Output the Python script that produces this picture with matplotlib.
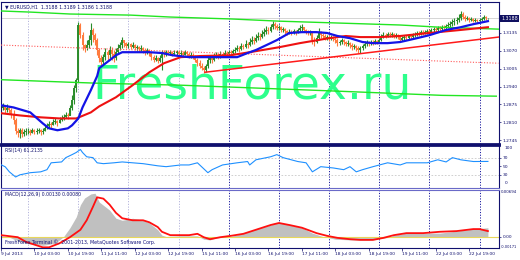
import numpy as np
import pandas as pd
import matplotlib.pyplot as plt

# EURUSD H1, 9 Jul 11:00 .. 23 Jul 04:00 (server time), weekends skipped
times = pd.date_range('2013-07-09 11:00', '2013-07-23 04:00', freq='h')
times = times[times.dayofweek < 5]

first_open = 1.2864
close = [1.2861, 1.2868, 1.2854, 1.2861, 1.2854, 1.2839, 1.2817, 1.2777, 1.2770, 1.2781,
         1.2766, 1.2773, 1.2777, 1.2777, 1.2770, 1.2781, 1.2773, 1.2777, 1.2781, 1.2773,
         1.2777, 1.2788, 1.2795, 1.2802, 1.2799, 1.2810, 1.2813, 1.2806, 1.2817, 1.2824,
         1.2828, 1.2835, 1.2832, 1.2861, 1.2890, 1.2934, 1.2963, 1.3164, 1.3127, 1.3091,
         1.3080, 1.3091, 1.3109, 1.3146, 1.3127, 1.3109, 1.3073, 1.3043, 1.3029, 1.3047,
         1.3065, 1.3054, 1.3073, 1.3058, 1.3043, 1.3065, 1.3080, 1.3091, 1.3109, 1.3098,
         1.3087, 1.3094, 1.3083, 1.3091, 1.3080, 1.3083, 1.3076, 1.3080, 1.3073, 1.3065,
         1.3073, 1.3062, 1.3047, 1.3036, 1.3043, 1.3032, 1.3043, 1.3065, 1.3058, 1.3065,
         1.3062, 1.3065, 1.3058, 1.3062, 1.3065, 1.3058, 1.3062, 1.3054, 1.3065, 1.3058,
         1.3051, 1.3054, 1.3047, 1.3036, 1.3025, 1.3014, 1.3007, 1.3000, 1.3014, 1.3036,
         1.3043, 1.3036, 1.3051, 1.3054, 1.3047, 1.3058, 1.3054, 1.3062, 1.3058, 1.3065,
         1.3062, 1.3069, 1.3073, 1.3080, 1.3076, 1.3087, 1.3083, 1.3094, 1.3091, 1.3102,
         1.3109, 1.3105, 1.3116, 1.3124, 1.3120, 1.3131, 1.3138, 1.3146, 1.3142, 1.3156,
         1.3167, 1.3160, 1.3153, 1.3156, 1.3146, 1.3149, 1.3142, 1.3135, 1.3138, 1.3135,
         1.3142, 1.3138, 1.3146, 1.3153, 1.3156, 1.3146, 1.3142, 1.3135, 1.3138, 1.3109,
         1.3102, 1.3116, 1.3135, 1.3127, 1.3124, 1.3116, 1.3120, 1.3116, 1.3120, 1.3113,
         1.3109, 1.3098, 1.3102, 1.3109, 1.3102, 1.3094, 1.3098, 1.3091, 1.3083, 1.3087,
         1.3080, 1.3073, 1.3080, 1.3087, 1.3094, 1.3098, 1.3094, 1.3102, 1.3098, 1.3105,
         1.3102, 1.3109, 1.3120, 1.3127, 1.3124, 1.3131, 1.3127, 1.3131, 1.3124, 1.3127,
         1.3120, 1.3109, 1.3116, 1.3120, 1.3116, 1.3124, 1.3120, 1.3127, 1.3131, 1.3135,
         1.3131, 1.3138, 1.3135, 1.3138, 1.3142, 1.3138, 1.3146, 1.3149, 1.3146, 1.3153,
         1.3149, 1.3156, 1.3153, 1.3160, 1.3164, 1.3167, 1.3175, 1.3178, 1.3182, 1.3189,
         1.3204, 1.3193, 1.3186, 1.3189, 1.3182, 1.3186, 1.3178, 1.3182, 1.3178, 1.3182,
         1.3186, 1.3193, 1.3188, 1.3188]
high = [1.2875, 1.2879, 1.2872, 1.2875, 1.2868, 1.2861, 1.2854, 1.2824, 1.2788, 1.2791,
        1.2788, 1.2784, 1.2788, 1.2788, 1.2784, 1.2791, 1.2784, 1.2788, 1.2791, 1.2784,
        1.2788, 1.2799, 1.2806, 1.2813, 1.2810, 1.2821, 1.2824, 1.2817, 1.2828, 1.2835,
        1.2839, 1.2846, 1.2843, 1.2872, 1.2908, 1.2945, 1.2970, 1.3175, 1.3171, 1.3138,
        1.3094, 1.3109, 1.3127, 1.3171, 1.3153, 1.3135, 1.3116, 1.3080, 1.3054, 1.3058,
        1.3080, 1.3073, 1.3087, 1.3083, 1.3073, 1.3080, 1.3094, 1.3102, 1.3120, 1.3109,
        1.3102, 1.3102, 1.3098, 1.3102, 1.3094, 1.3091, 1.3087, 1.3091, 1.3083, 1.3080,
        1.3080, 1.3076, 1.3065, 1.3054, 1.3054, 1.3047, 1.3054, 1.3073, 1.3073, 1.3073,
        1.3073, 1.3073, 1.3069, 1.3073, 1.3073, 1.3073, 1.3073, 1.3069, 1.3073, 1.3069,
        1.3065, 1.3065, 1.3062, 1.3054, 1.3043, 1.3036, 1.3025, 1.3014, 1.3021, 1.3051,
        1.3054, 1.3051, 1.3062, 1.3065, 1.3062, 1.3069, 1.3065, 1.3073, 1.3069, 1.3073,
        1.3073, 1.3076, 1.3083, 1.3091, 1.3087, 1.3098, 1.3094, 1.3109, 1.3102, 1.3116,
        1.3124, 1.3120, 1.3131, 1.3138, 1.3135, 1.3146, 1.3153, 1.3160, 1.3156, 1.3167,
        1.3178, 1.3175, 1.3167, 1.3164, 1.3160, 1.3156, 1.3153, 1.3146, 1.3149, 1.3146,
        1.3149, 1.3146, 1.3153, 1.3164, 1.3167, 1.3156, 1.3149, 1.3146, 1.3146, 1.3138,
        1.3120, 1.3127, 1.3153, 1.3142, 1.3135, 1.3131, 1.3127, 1.3127, 1.3127, 1.3124,
        1.3120, 1.3116, 1.3109, 1.3116, 1.3113, 1.3105, 1.3109, 1.3102, 1.3098, 1.3094,
        1.3091, 1.3087, 1.3087, 1.3094, 1.3105, 1.3109, 1.3105, 1.3109, 1.3109, 1.3113,
        1.3109, 1.3116, 1.3131, 1.3138, 1.3135, 1.3138, 1.3138, 1.3138, 1.3135, 1.3135,
        1.3131, 1.3127, 1.3124, 1.3127, 1.3127, 1.3131, 1.3131, 1.3135, 1.3138, 1.3142,
        1.3142, 1.3146, 1.3146, 1.3146, 1.3149, 1.3149, 1.3153, 1.3156, 1.3156, 1.3160,
        1.3160, 1.3164, 1.3164, 1.3167, 1.3175, 1.3178, 1.3186, 1.3189, 1.3193, 1.3204,
        1.3215, 1.3211, 1.3200, 1.3197, 1.3193, 1.3193, 1.3189, 1.3189, 1.3186, 1.3189,
        1.3193, 1.3200, 1.3197, 1.3189]
low = [1.2850, 1.2854, 1.2843, 1.2846, 1.2843, 1.2824, 1.2802, 1.2766, 1.2755, 1.2751,
       1.2755, 1.2759, 1.2762, 1.2766, 1.2762, 1.2770, 1.2766, 1.2766, 1.2770, 1.2762,
       1.2766, 1.2777, 1.2784, 1.2791, 1.2788, 1.2799, 1.2802, 1.2795, 1.2806, 1.2813,
       1.2817, 1.2824, 1.2821, 1.2835, 1.2854, 1.2875, 1.2919, 1.2956, 1.3116, 1.3073,
       1.3065, 1.3073, 1.3080, 1.3091, 1.3102, 1.3091, 1.3054, 1.3029, 1.3018, 1.3021,
       1.3036, 1.3036, 1.3043, 1.3036, 1.3029, 1.3036, 1.3058, 1.3073, 1.3080, 1.3083,
       1.3080, 1.3080, 1.3076, 1.3080, 1.3073, 1.3069, 1.3065, 1.3069, 1.3062, 1.3054,
       1.3058, 1.3051, 1.3036, 1.3029, 1.3032, 1.3025, 1.3029, 1.3000, 1.3047, 1.3051,
       1.3054, 1.3054, 1.3051, 1.3054, 1.3054, 1.3051, 1.3051, 1.3047, 1.3054, 1.3047,
       1.3043, 1.3043, 1.3040, 1.3029, 1.3014, 1.3007, 1.3000, 1.2989, 1.2992, 1.3007,
       1.3025, 1.3025, 1.3032, 1.3043, 1.3040, 1.3043, 1.3047, 1.3051, 1.3051, 1.3054,
       1.3054, 1.3058, 1.3062, 1.3069, 1.3065, 1.3073, 1.3076, 1.3080, 1.3080, 1.3087,
       1.3094, 1.3094, 1.3102, 1.3109, 1.3109, 1.3116, 1.3124, 1.3131, 1.3131, 1.3138,
       1.3149, 1.3149, 1.3146, 1.3146, 1.3138, 1.3138, 1.3131, 1.3127, 1.3131, 1.3127,
       1.3131, 1.3127, 1.3135, 1.3138, 1.3142, 1.3138, 1.3131, 1.3127, 1.3127, 1.3094,
       1.3087, 1.3098, 1.3109, 1.3116, 1.3113, 1.3109, 1.3109, 1.3105, 1.3109, 1.3105,
       1.3098, 1.3087, 1.3091, 1.3094, 1.3091, 1.3087, 1.3087, 1.3080, 1.3073, 1.3076,
       1.3069, 1.3062, 1.3062, 1.3073, 1.3080, 1.3087, 1.3087, 1.3091, 1.3091, 1.3094,
       1.3094, 1.3098, 1.3105, 1.3116, 1.3116, 1.3120, 1.3120, 1.3120, 1.3116, 1.3116,
       1.3113, 1.3102, 1.3105, 1.3109, 1.3109, 1.3113, 1.3113, 1.3116, 1.3120, 1.3124,
       1.3124, 1.3127, 1.3127, 1.3131, 1.3131, 1.3131, 1.3135, 1.3138, 1.3138, 1.3142,
       1.3142, 1.3146, 1.3146, 1.3149, 1.3153, 1.3156, 1.3160, 1.3164, 1.3167, 1.3175,
       1.3182, 1.3186, 1.3178, 1.3182, 1.3175, 1.3178, 1.3175, 1.3175, 1.3171, 1.3175,
       1.3178, 1.3182, 1.3182, 1.3186]

# moving averages (bar index, price)
ma_fast_x = [0, 6, 14, 20, 23, 27, 32, 34, 37, 39, 43, 46, 47, 52, 55, 58, 63, 71, 77, 82,
             90, 100, 113, 118, 122, 129, 132, 138, 144, 151, 156, 161, 167, 173, 178, 185,
             191, 199, 205, 213, 220, 226, 233]
ma_fast_y = [1.2872, 1.2864, 1.2846, 1.2806, 1.2788, 1.2781, 1.2788, 1.2799, 1.2824, 1.2864,
             1.2927, 1.2978, 1.3007, 1.3036, 1.3054, 1.3065, 1.3065, 1.3065, 1.3062, 1.3054,
             1.3047, 1.3047, 1.3047, 1.3062, 1.3073, 1.3098, 1.3109, 1.3135, 1.3138, 1.3138,
             1.3135, 1.3124, 1.3116, 1.3102, 1.3098, 1.3098, 1.3102, 1.3116, 1.3127, 1.3146,
             1.3156, 1.3167, 1.3178]
ma_slow_x = [0, 9, 19, 28, 36, 43, 47, 55, 63, 71, 78, 86, 95, 110, 119, 133, 143, 157, 165,
             172, 181, 191, 205, 220, 233]
ma_slow_y = [1.2843, 1.2835, 1.2828, 1.2824, 1.2824, 1.2846, 1.2868, 1.2901, 1.2945, 1.2992,
             1.3025, 1.3047, 1.3051, 1.3054, 1.3065, 1.3083, 1.3098, 1.3116, 1.3124, 1.3120,
             1.3120, 1.3124, 1.3135, 1.3146, 1.3156]

# channel lines
upper_x = [0, 14, 33, 62, 81, 110, 133, 162, 191, 210, 238]
upper_y = [1.3215, 1.3211, 1.3204, 1.3200, 1.3193, 1.3186, 1.3178, 1.3171, 1.3164, 1.3156, 1.3149]
lower_x = [0, 32, 47, 86, 124, 162, 185, 211, 237]
lower_y = [1.2965, 1.2956, 1.2952, 1.2945, 1.2934, 1.2923, 1.2916, 1.2908, 1.2905]
trend_x = [97.6, 238]
trend_y = [1.2992, 1.3120]
dotted_x = [0, 238]
dotted_y = [1.3091, 1.3025]
bid = 1.3188

rsi_x = [0, 2, 4, 7, 9, 14, 19, 22, 24, 29, 31, 34, 36, 38, 39, 41, 44, 46, 49, 54, 58, 63, 68,
         75, 79, 86, 90, 94, 99, 101, 106, 113, 118, 119, 122, 129, 132, 135, 142, 146, 149,
         153, 159, 164, 167, 170, 173, 178, 185, 191, 194, 204, 209, 213, 216, 220, 226, 233]
rsi_y = [53.5, 48.8, 37, 25, 30, 35, 37, 42, 58, 60, 70, 77, 82, 89, 82, 72, 70, 58, 56, 58, 60,
         58, 56, 51, 49, 53, 53, 58, 35, 42, 53, 58, 61, 53, 65, 72, 77, 70, 61, 58, 37, 49, 46,
         42, 49, 37, 42, 49, 58, 53, 58, 58, 65, 60, 70, 65, 61, 61.2]

hist_x = [0, 4, 9, 14, 20, 26, 30, 33, 36, 38, 40, 43, 45, 47, 52, 55, 58, 63, 68, 71, 75, 77,
          79, 86, 94, 97, 100, 103, 110, 116, 122, 129, 133, 138, 144, 149, 154, 160, 167,
          177, 186, 188, 194, 202, 210, 218, 226, 233]
hist_y = [0.0001, -0.0001, -0.0008, -0.0011, -0.0013, -0.0010, 0.0, 0.0013, 0.0029, 0.0047,
          0.0057, 0.0063, 0.0064, 0.0051, 0.0039, 0.0027, 0.0024, 0.0027, 0.0024, 0.0020,
          0.0010, 0.0002, 0.0, 0.0001, 0.0001, -0.0004, -0.0005, -0.0002, 0.0, 0.0005, 0.0011,
          0.0017, 0.0021, 0.0017, 0.0013, 0.0005, 0.0, -0.0004, -0.0005, -0.0005, -0.0001,
          0.0002, 0.0005, 0.0005, 0.0005, 0.0008, 0.0011, 0.0013]
sig_x = [0, 8, 12, 20, 23, 28, 33, 38, 41, 44, 46, 49, 52, 55, 58, 63, 68, 71, 75, 77, 81, 90,
         94, 97, 100, 105, 110, 116, 122, 129, 133, 138, 144, 151, 156, 161, 167, 172, 178, 183,
         188, 194, 202, 210, 218, 226, 229, 233]
sig_y = [0.0002, -0.0001, -0.0008, -0.0016, -0.0016, -0.0010, -0.0001, 0.0010, 0.0024, 0.0044,
         0.0058, 0.0056, 0.0047, 0.0035, 0.0027, 0.0024, 0.0024, 0.0021, 0.0014, 0.0007, 0.0002,
         0.0002, 0.0004, -0.0001, -0.0004, -0.0001, 0.0001, 0.0004, 0.0010, 0.0017, 0.0020,
         0.0017, 0.0013, 0.0005, 0.0001, -0.0002, -0.0004, -0.0005, -0.0005, -0.0002, 0.0002,
         0.0005, 0.0005, 0.0007, 0.0008, 0.0011, 0.0011, 0.0008]

price_ticks = [1.3135, 1.3070, 1.3005, 1.2940, 1.2875, 1.2810, 1.2745]

navy = '#10106e'
green = '#2a8c2a'
orange = '#ff7a3c'

close = np.array(close)
high = np.array(high)
low = np.array(low)
opens = np.r_[first_open, close[:-1]]
idx = np.arange(len(close))
up = close >= opens

fig = plt.figure(figsize=(5.2, 2.6), dpi=100)
ax1 = fig.add_axes([1 / 520, 1 - 143.5 / 260, 498 / 520, 141.5 / 260])
ax2 = fig.add_axes([1 / 520, 1 - 188 / 260, 498 / 520, 43 / 260])
ax3 = fig.add_axes([1 / 520, 1 - 248 / 260, 498 / 520, 58 / 260])

# day separators
day_start = [i for i in range(1, len(times)) if times[i].day != times[i - 1].day]
for ax in (ax1, ax2, ax3):
    for i in day_start:
        c = '#b4b4dc' if times[i] < pd.Timestamp('2013-07-16') else '#1a1aa0'
        ax.axvline(i, color=c, lw=0.7, ls=(0, (1.2, 1.6)), zorder=1)

ax1.axhline(bid, color='#cfcfcf', lw=0.6, zorder=1)
ax1.text(0.1827, 0.32, 'FreshForex.ru', transform=ax1.transAxes, fontsize=34,
         color='#2dff8c', va='baseline', ha='left', zorder=1.5)

ax1.vlines(idx[up], low[up], high[up], color=green, lw=0.8, zorder=2)
ax1.vlines(idx[up], opens[up], close[up], color=green, lw=1.4, zorder=2)
ax1.vlines(idx[~up], low[~up], high[~up], color=orange, lw=0.8, zorder=2)
ax1.vlines(idx[~up], opens[~up], close[~up], color=orange, lw=1.4, zorder=2)

ax1.plot(upper_x, upper_y, color='#22e622', lw=1.0, zorder=3)
ax1.plot(lower_x, lower_y, color='#22e622', lw=1.0, zorder=3)
ax1.plot(dotted_x, dotted_y, color='#ff5a5a', lw=0.8, ls=(0, (1, 1.5)), zorder=3)
ax1.plot(trend_x, trend_y, color='#ff1a1a', lw=1.1, zorder=3)
ax1.plot(ma_slow_x, ma_slow_y, color='#ee1111', lw=1.5, zorder=4)
ax1.plot(ma_fast_x, ma_fast_y, color='#1414e6', lw=1.6, zorder=5)

ax1.set_xlim(0, 238.3)
ax1.set_ylim(1.27328, 1.32477)
ax1.set_yticks(price_ticks)
ax1.set_yticklabels(['%.4f' % p for p in price_ticks])
ax1.text(1.004, bid, '%.4f' % bid, transform=ax1.get_yaxis_transform(), fontsize=3.4,
         color='white', va='center', ha='left',
         bbox=dict(boxstyle='square,pad=0.25', fc='#101060', ec='none'))
ax1.text(0.008, 0.965, '\u25bc EURUSD,H1  1.3188 1.3189 1.3186 1.3188', transform=ax1.transAxes,
         fontsize=3.4, color=navy, va='center', ha='left')

ax2.plot(rsi_x, rsi_y, color='#1e90ff', lw=0.8, zorder=3)
for lv in (70, 30):
    ax2.axhline(lv, color='#c8c8c8', lw=0.6, ls=(0, (2, 2)), zorder=1)
ax2.set_xlim(0, 238.3)
ax2.set_ylim(-0.6, 99.4)
ax2.set_yticks([70, 50, 30])
ax2.set_yticklabels(['70', '50', '30'])
ax2.text(1.012, 0.94, '100', transform=ax2.transAxes, fontsize=3.2, color=navy, va='center')
ax2.text(1.012, 0.11, '0', transform=ax2.transAxes, fontsize=3.2, color=navy, va='center')
ax2.text(0.008, 0.88, 'RSI(14) 61.2135', transform=ax2.transAxes, fontsize=3.3, color=navy,
         va='center', ha='left')

ax3.fill_between(hist_x, 0, hist_y, color='#c0c0c0', lw=0, zorder=2)
ax3.axhline(0, color='#e8d75a', lw=0.8, zorder=2.5)
ax3.plot(sig_x, sig_y, color='#ff1010', lw=1.3, zorder=3)
ax3.set_xlim(0, 238.3)
ax3.set_ylim(-0.0017, 0.00688)
ax3.set_yticks([0.0])
ax3.set_yticklabels(['0.00'])
ax3.text(1.003, 0.96, '0.00694', transform=ax3.transAxes, fontsize=2.9, color=navy, va='center')
ax3.text(1.003, 0.02, '-0.00171', transform=ax3.transAxes, fontsize=2.6, color=navy, va='center')
ax3.text(0.008, 0.93, 'MACD(12,26,9) 0.00130 0.00080', transform=ax3.transAxes, fontsize=3.3,
         color=navy, va='center', ha='left')
ax3.text(0.008, 0.1, 'FreshForex Terminal \u00a9, 2001-2013, MetaQuotes Software Corp.',
         transform=ax3.transAxes, fontsize=3.4, color='#10107a', va='center', ha='left')

tick_idx = list(range(0, len(times), 16))
tick_lab = []
for i in tick_idx:
    t = times[i]
    if i == 0:
        tick_lab.append('%d %s %d' % (t.day, t.strftime('%b'), t.year))
    else:
        tick_lab.append('%d %s %s' % (t.day, t.strftime('%b'), t.strftime('%H:%M')))
ax3.set_xticks(tick_idx)
ax3.set_xticklabels(tick_lab, ha='left')
ax3.tick_params(axis='x', length=2, width=0.5, colors=navy, labelsize=3.2, pad=1)

for ax in (ax1, ax2, ax3):
    ax.set_facecolor('white')
    ax.yaxis.tick_right()
    ax.tick_params(axis='y', length=1.5, width=0.5, colors=navy, labelsize=3.2, pad=1)
    if ax is not ax3:
        ax.set_xticks([])
    for s in ax.spines.values():
        s.set_color(navy)
        s.set_linewidth(0.8)
ax1.spines['bottom'].set_linewidth(2.0)
ax2.spines['top'].set_linewidth(2.0)
ax2.spines['bottom'].set_color('#6a6ac8')
ax3.spines['top'].set_color('#6a6ac8')

fig.savefig('out.png', dpi=100)
